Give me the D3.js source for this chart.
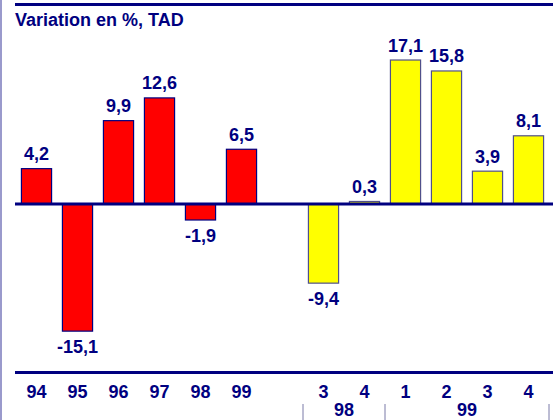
<!DOCTYPE html>
<html>
<head>
<meta charset="utf-8">
<script src="https://cdn.jsdelivr.net/npm/d3@7"></script>
<style>
    html, body { margin: 0; padding: 0; background: #fff; }
    svg { display: block; font-family: Arial, 'Liberation Sans', sans-serif; }
</style>
</head>
<body>
<svg id="chart" width="553" height="420"></svg>
<script>
// annual figures
let years = ['94', '95', '96', '97', '98', '99'];
let yearValues = [4.2, -15.1, 9.9, 12.6, -1.9, 6.5];

// quarterly figures
let quarters = ['3', '4', '1', '2', '3', '4'];
let quarterYears = ['98', '98', '99', '99', '99', '99'];
let quarterValues = [-9.4, 0.3, 17.1, 15.8, 3.9, 8.1];

let title = 'Variation en %, TAD';

let navy = '#000080';

let fr = d3.formatLocale({decimal: ',', thousands: ' ', grouping: [3], currency: ['', ''], minus: '-'});
let fmt = fr.format('.1f');

// one empty slot between the two blocks
let slots = [];
years.forEach((y, i) => slots.push({key: 'y' + i, label: y, value: yearValues[i], color: '#ff0000', stroke: navy}));
slots.push({key: 'gap', label: '', value: null});
quarters.forEach((q, i) => slots.push({key: 'q' + i, label: q, group: quarterYears[i], value: quarterValues[i], color: '#ffff00', stroke: '#50508a'}));

let svg = d3.select('#chart');

let x = d3.scaleBand()
    .domain(slots.map(d => d.key))
    .range([16, 549])
    .paddingInner(0.24)
    .paddingOuter(0.12);

let y = d3.scaleLinear()
    .domain([-16, 19])
    .range([204 + 16 * 8.42, 204 - 19 * 8.42]);

// left border
svg.append('rect')
    .attr('x', 0).attr('y', 0)
    .attr('width', 2).attr('height', 420)
    .style('fill', '#9a9acc');

// top rule
svg.append('rect')
    .attr('x', 15).attr('y', 3)
    .attr('width', 538).attr('height', 3)
    .style('fill', navy);

svg.append('text')
    .attr('x', 15).attr('y', 26)
    .style('font-size', '18px')
    .style('font-weight', 'bold')
    .style('fill', navy)
    .text(title);

let data = slots.filter(d => d.value !== null);

svg.selectAll('.bar')
    .data(data)
    .enter()
    .append('rect')
    .attr('class', 'bar')
    .attr('x', d => x(d.key) + 0.5)
    .attr('y', d => Math.min(y(d.value), y(0)))
    .attr('width', x.bandwidth() - 1)
    .attr('height', d => Math.max(1, Math.abs(y(d.value) - y(0))))
    .style('fill', d => d.color)
    .style('stroke', d => d.stroke)
    .style('stroke-width', 1.2);

// zero line
svg.append('rect')
    .attr('x', 15).attr('y', y(0) - 1.5)
    .attr('width', 538).attr('height', 3)
    .style('fill', navy);

svg.selectAll('.value')
    .data(data)
    .enter()
    .append('text')
    .attr('class', 'value')
    .attr('x', d => x(d.key) + x.bandwidth() / 2)
    .attr('y', d => d.value >= 0 ? y(d.value) - 8.5 : y(d.value) + 22)
    .attr('text-anchor', 'middle')
    .style('font-size', '18px')
    .style('font-weight', 'bold')
    .style('fill', navy)
    .text(d => fmt(d.value));

// bottom rule and axis labels
svg.append('rect')
    .attr('x', 15).attr('y', 371)
    .attr('width', 538).attr('height', 3)
    .style('fill', navy);

let axis = d3.axisBottom(x)
    .tickSize(0)
    .tickPadding(0)
    .tickFormat(k => slots.find(s => s.key === k).label);

let axisG = svg.append('g')
    .attr('transform', 'translate(0,385)')
    .call(axis);

axisG.select('.domain').remove();
axisG.selectAll('text')
    .attr('dy', '0.71em')
    .attr('y', 0)
    .style('font-family', 'Arial, "Liberation Sans", sans-serif')
    .style('font-size', '18px')
    .style('font-weight', 'bold')
    .style('fill', navy);

// year groups under the quarters
let groups = d3.groups(slots.filter(d => d.group), d => d.group);

let bounds = [];
groups.forEach(([g, items]) => {
    let x0 = x(items[0].key) - x.step() * x.paddingInner() / 2;
    let x1 = x(items[items.length - 1].key) + x.bandwidth() + x.step() * x.paddingInner() / 2;
    bounds.push(x0, x1);
    svg.append('text')
        .attr('x', (x0 + x1) / 2)
        .attr('y', 416)
        .attr('text-anchor', 'middle')
        .style('font-size', '18px')
        .style('font-weight', 'bold')
        .style('fill', navy)
        .text(g);
});

svg.selectAll('.sep')
    .data(Array.from(new Set(bounds.map(b => Math.round(b)))))
    .enter()
    .append('line')
    .attr('class', 'sep')
    .attr('x1', d => d).attr('x2', d => d)
    .attr('y1', 404).attr('y2', 420)
    .style('stroke', '#7a7aa8')
    .style('stroke-width', 1);
</script>
</body>
</html>
